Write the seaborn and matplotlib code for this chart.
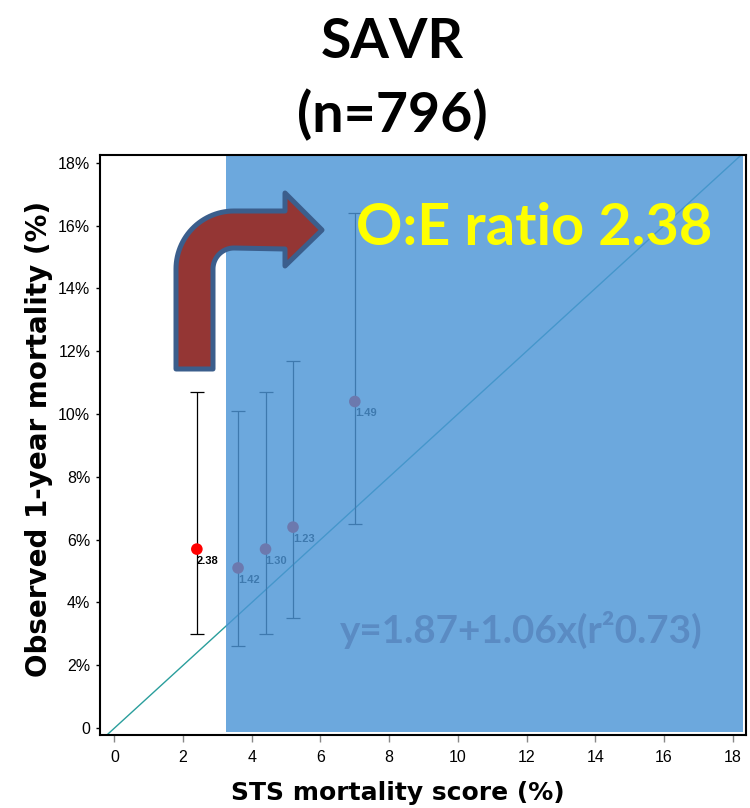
import numpy as np
import matplotlib
matplotlib.use("Agg")
import matplotlib.pyplot as plt
import matplotlib.transforms as mtransforms
from matplotlib.path import Path
from matplotlib.patches import PathPatch
import seaborn as sns

# STS-score bins: predicted (x) vs observed 1-year mortality (y), with 95% CI
sts_score = [2.4, 3.6, 4.4, 5.2, 7.0]
observed = [5.7, 5.1, 5.7, 6.4, 10.4]
ci_low = [3.0, 2.6, 3.0, 3.5, 6.5]
ci_high = [10.7, 10.1, 10.7, 11.7, 16.4]
oe_labels = ["2.38", "1.42", "1.30", "1.23", "1.49"]

x_ticks = [0, 2, 4, 6, 8, 10, 12, 14, 16, 18]
y_ticks = [0, 2, 4, 6, 8, 10, 12, 14, 16, 18]
y_tick_labels = ["0"] + [f"{v}%" for v in y_ticks[1:]]

title_lines = ["SAVR", "(n=796)"]
ratio_text = "O:E ratio 2.38"
fit_text = "y=1.87+1.06x(r\u00b20.73)"

sns.set_style("ticks")
plt.rcParams["font.family"] = ["DejaVu Sans"]
plt.rcParams.update({"text.color": "black", "axes.labelcolor": "black",
                     "xtick.labelcolor": "black", "ytick.labelcolor": "black"})

W, H = 750, 808
fig = plt.figure(figsize=(W / 100, H / 100), dpi=100)
ax = fig.add_axes([100 / W, 1 - 735 / H, 646 / W, 580 / H])

xmin, xmax = -0.42, 18.39
ymin, ymax = -0.22, 18.25
ax.set_xlim(xmin, xmax)
ax.set_ylim(ymin, ymax)

# identity line
ax.plot([xmin, xmax], [xmin, xmax], color="#2a9e9c", lw=1.0, zorder=2)

obs = np.array(observed)
yerr = [obs - np.array(ci_low), np.array(ci_high) - obs]
ax.errorbar(sts_score, observed, yerr=yerr, fmt="none", ecolor="black",
            elinewidth=0.9, capsize=5, capthick=0.9, zorder=2)
sns.scatterplot(x=sts_score, y=observed, color="#ff0000", s=70,
                edgecolor="none", ax=ax, zorder=3, legend=False)

narrow = ["Liberation Sans Narrow", "Liberation Sans", "DejaVu Sans"]
for xv, yv, lab in zip(sts_score, observed, oe_labels):
    ax.annotate(lab, (xv, yv), xytext=(0, -5), textcoords="offset points",
                ha="left", va="top", fontsize=8, fontweight="bold",
                family=narrow, color="black", zorder=3)

# translucent highlight over the higher-risk bins
ax.axvspan(3.25, 18.3, ymin=0.006, ymax=1.0, facecolor="#4c95d6",
           alpha=0.82, lw=0, zorder=4)

# figure-pixel transform (y downward) for the overlay annotations
px = mtransforms.Affine2D().scale(1 / W, -1 / H).translate(0, 1) + fig.transFigure

ax.text(340, 643, fit_text, transform=px, ha="left", va="baseline",
        fontsize=27.8, fontweight="bold", family="Lato", color="#5a8bc3", zorder=5)

# bent arrow
L, R, bottom = 176, 213, 369
T, B = 211, 249
cx, cy = 234, 269
ro, ri = cx - L, cx - R
t_out = np.linspace(np.pi, 1.5 * np.pi, 30)
t_in = np.linspace(1.5 * np.pi, np.pi, 30)
verts = [(L, bottom), (L, cy)]
verts += [(cx + ro * np.cos(t), cy + ro * np.sin(t)) for t in t_out]
verts += [(285, T), (285, 193), (322, 230), (285, 266), (285, B)]
verts += [(cx + ri * np.cos(t), cy + ri * np.sin(t)) for t in t_in]
verts += [(R, bottom), (L, bottom)]
codes = [Path.MOVETO] + [Path.LINETO] * (len(verts) - 2) + [Path.CLOSEPOLY]
arrow = PathPatch(Path(verts, codes), transform=px, facecolor="#943634",
                  edgecolor="#3b5e8c", lw=3.6, joinstyle="round",
                  zorder=6, clip_on=False)
ax.add_patch(arrow)

ax.text(356, 245, ratio_text, transform=px, ha="left", va="baseline",
        fontsize=41.5, fontweight="bold", family="Lato", color="#ffff00", zorder=7)

# titles
fig.text(392 / W, 1 - 58 / H, title_lines[0], ha="center", va="baseline",
         fontsize=40, fontweight="bold", family="Lato", color="black")
fig.text(392 / W, 1 - 132 / H, title_lines[1], ha="center", va="baseline",
         fontsize=40, fontweight="bold", family="Lato", color="black")

ax.set_xticks(x_ticks)
ax.set_xticklabels([str(v) for v in x_ticks])
ax.set_yticks(y_ticks)
ax.set_yticklabels(y_tick_labels)
for lab in ax.get_xticklabels() + ax.get_yticklabels():
    lab.set_family(narrow)
    lab.set_fontsize(11.5)
    lab.set_color("black")
ax.tick_params(axis="y", length=3, width=1, color="black", pad=4)
ax.tick_params(axis="x", length=5, width=1, color="#888888", pad=6)

for s in ax.spines.values():
    s.set_visible(True)
    s.set_color("black")
    s.set_linewidth(1.5)
    s.set_zorder(8)

ax.set_xlabel("STS mortality score (%)", fontsize=18, fontweight="bold",
              color="black")
ax.set_ylabel("Observed 1-year mortality (%)", fontsize=20, fontweight="bold",
              color="black")
ax.xaxis.set_label_coords((398 - 100) / 646, -(793 - 735) / 580)
ax.xaxis.label.set_va("center")
ax.yaxis.set_label_coords(-(100 - 39) / 646, (735 - 439) / 580)
ax.yaxis.label.set_va("center")

fig.savefig("out.png", dpi=100)
